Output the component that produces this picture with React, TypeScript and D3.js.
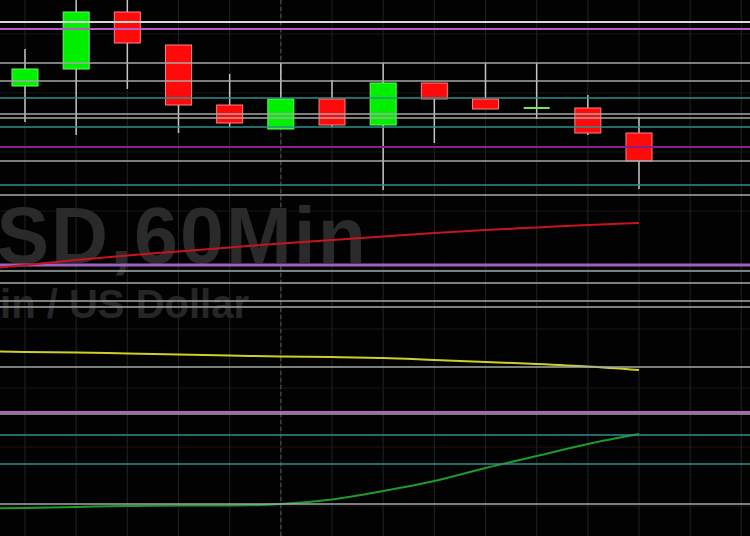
import React from "react";
import * as d3 from "d3";

const W = 750;
const H = 536;

// Candles: [open, high, low, close]
const candleIndex = [0, 1, 2, 3, 4, 5, 6, 7, 8, 9, 10, 11, 12];
const opens = [11650, 11667, 11724, 11691, 11631, 11607, 11637, 11611, 11653, 11637, 11628, 11628, 11603];
const highs = [11687, 11745, 11745, 11691, 11662, 11673, 11656, 11673, 11653, 11673, 11673, 11641, 11619];
const lows = [11614, 11601, 11647, 11603, 11609, 11607, 11609, 11546, 11593, 11627, 11617, 11601, 11547];
const closes = [11667, 11724, 11693, 11631, 11613, 11637, 11611, 11653, 11637, 11627, 11628, 11603, 11575];

// Indicator lines (index -1 .. 12)
const lineIndex = [-1, 0, 1, 2, 3, 4, 5, 6, 7, 8, 9, 10, 11, 12];
const redLine = [11466, 11471, 11476, 11480.5, 11484.5, 11488.5, 11492.5, 11496, 11499.5, 11503, 11506, 11508.5, 11511, 11513];
const yellowLine = [11385, 11384, 11383.5, 11382.5, 11381.5, 11380.5, 11379.5, 11379, 11378, 11376, 11374, 11372, 11369.5, 11366];
const greenLine = [11227.5, 11228, 11229, 11230, 11230.5, 11230.5, 11232, 11236.5, 11245, 11255, 11268, 11280, 11292, 11302];

// Horizontal levels
const brightLevels = [11714];
const grayLevels = [11673, 11655, 11622, 11618, 11575, 11541, 11465, 11453, 11435, 11429, 11369, 11322, 11232];
const tealLevels = [11638, 11609, 11551, 11301, 11272];
const magentaLevels = [11707, 11324];
const lavenderLevels = [11471];
const darkPurpleLevels = [11589];

// Grid
const gridPrices = [11702, 11643, 11584, 11525, 11466, 11407, 11348, 11289, 11230];
const gridIndex = [0, 1, 2, 3, 4, 5, 6, 7, 8, 9, 10, 11, 12, 13, 14];
const sessionBreak = [5];

const watermark1 = "BTCUSD,60Min";
const watermark2 = "Bitcoin / US Dollar";

export default function App() {
  const x = d3.scaleLinear().domain([0, 12]).range([25, 639]);
  const y = d3.scaleLinear().domain([11200, 11736]).range([536, 0]);
  const bodyW = 26;

  const mkLine = (vals: number[]) =>
    d3
      .line<number>()
      .x((_, i) => x(lineIndex[i]))
      .y((v) => y(v))
      .curve(d3.curveMonotoneX)(vals) || "";

  const hLines = (levels: number[], color: string, w: number) =>
    levels.map((p, i) => (
      <line key={color + i} x1={0} x2={W} y1={y(p)} y2={y(p)} stroke={color} strokeWidth={w} />
    ));

  return (
    <svg
      width={W}
      height={H}
      style={{ position: "absolute", left: 0, top: 0, background: "#000" }}
    >
      <rect x={0} y={0} width={W} height={H} fill="#020202" />
      {/* grid */}
      {gridPrices.map((p, i) => (
        <line key={"gh" + i} x1={0} x2={W} y1={y(p)} y2={y(p)} stroke="#161616" strokeWidth={1} />
      ))}
      {gridIndex.map((k) => (
        <line key={"gv" + k} x1={x(k)} x2={x(k)} y1={0} y2={H} stroke="#1e1e1e" strokeWidth={1.2} />
      ))}
      {sessionBreak.map((k) => (
        <line key={"sb" + k} x1={x(k)} x2={x(k)} y1={0} y2={H} stroke="#4a4a4a" strokeWidth={1.2} strokeDasharray="4,3" />
      ))}

      {/* watermark */}
      <text
        x={368}
        y={263}
        textAnchor="end"
        fontFamily="'Liberation Sans', Arial, sans-serif"
        fontWeight="bold"
        fontSize={79}
        letterSpacing={2}
        fill="#2a2a2a"
      >
        {watermark1}
      </text>
      <text
        x={249}
        y={318}
        textAnchor="end"
        fontFamily="'Liberation Sans', Arial, sans-serif"
        fontWeight="bold"
        fontSize={40}
        fill="#262626"
      >
        {watermark2}
      </text>

      {/* indicator lines */}
      <path d={mkLine(greenLine)} fill="none" stroke="#1f9a2a" strokeWidth={2} />
      <path d={mkLine(yellowLine)} fill="none" stroke="#cfcf2a" strokeWidth={2} />

      {/* candles */}
      {candleIndex.map((ci, i) => {
        const o = opens[i];
        const c = closes[i];
        const up = c >= o;
        const top = y(Math.max(o, c));
        const bot = y(Math.min(o, c));
        const h = Math.max(bot - top, 2);
        return (
          <g key={"c" + i}>
            <line x1={x(ci)} x2={x(ci)} y1={y(highs[i])} y2={y(lows[i])} stroke="#c4c4c4" strokeWidth={1.5} />
            <rect
              x={x(ci) - bodyW / 2}
              y={h === 2 ? top - 1 : top}
              width={bodyW}
              height={h}
              fill={up ? (h === 2 ? "#7be05a" : "#00f000") : "#ff0a0a"}
              stroke={up ? "#60ff60" : "#ff8080"}
              strokeWidth={h === 2 ? 0 : 1}
            />
          </g>
        );
      })}

      {/* horizontal levels */}
      {hLines(grayLevels, "#a3aaa8", 1.6)}
      {hLines(brightLevels, "#d5dcd8", 2)}
      {hLines(tealLevels, "#2f8f8c", 1.6)}
      {hLines(magentaLevels, "#b85cc8", 2.2)}
      {hLines(lavenderLevels, "#9c62c0", 3)}
      {hLines(darkPurpleLevels, "#8a1f8c", 2)}

      <path d={mkLine(redLine)} fill="none" stroke="#c8141e" strokeWidth={2} />
    </svg>
  );
}
